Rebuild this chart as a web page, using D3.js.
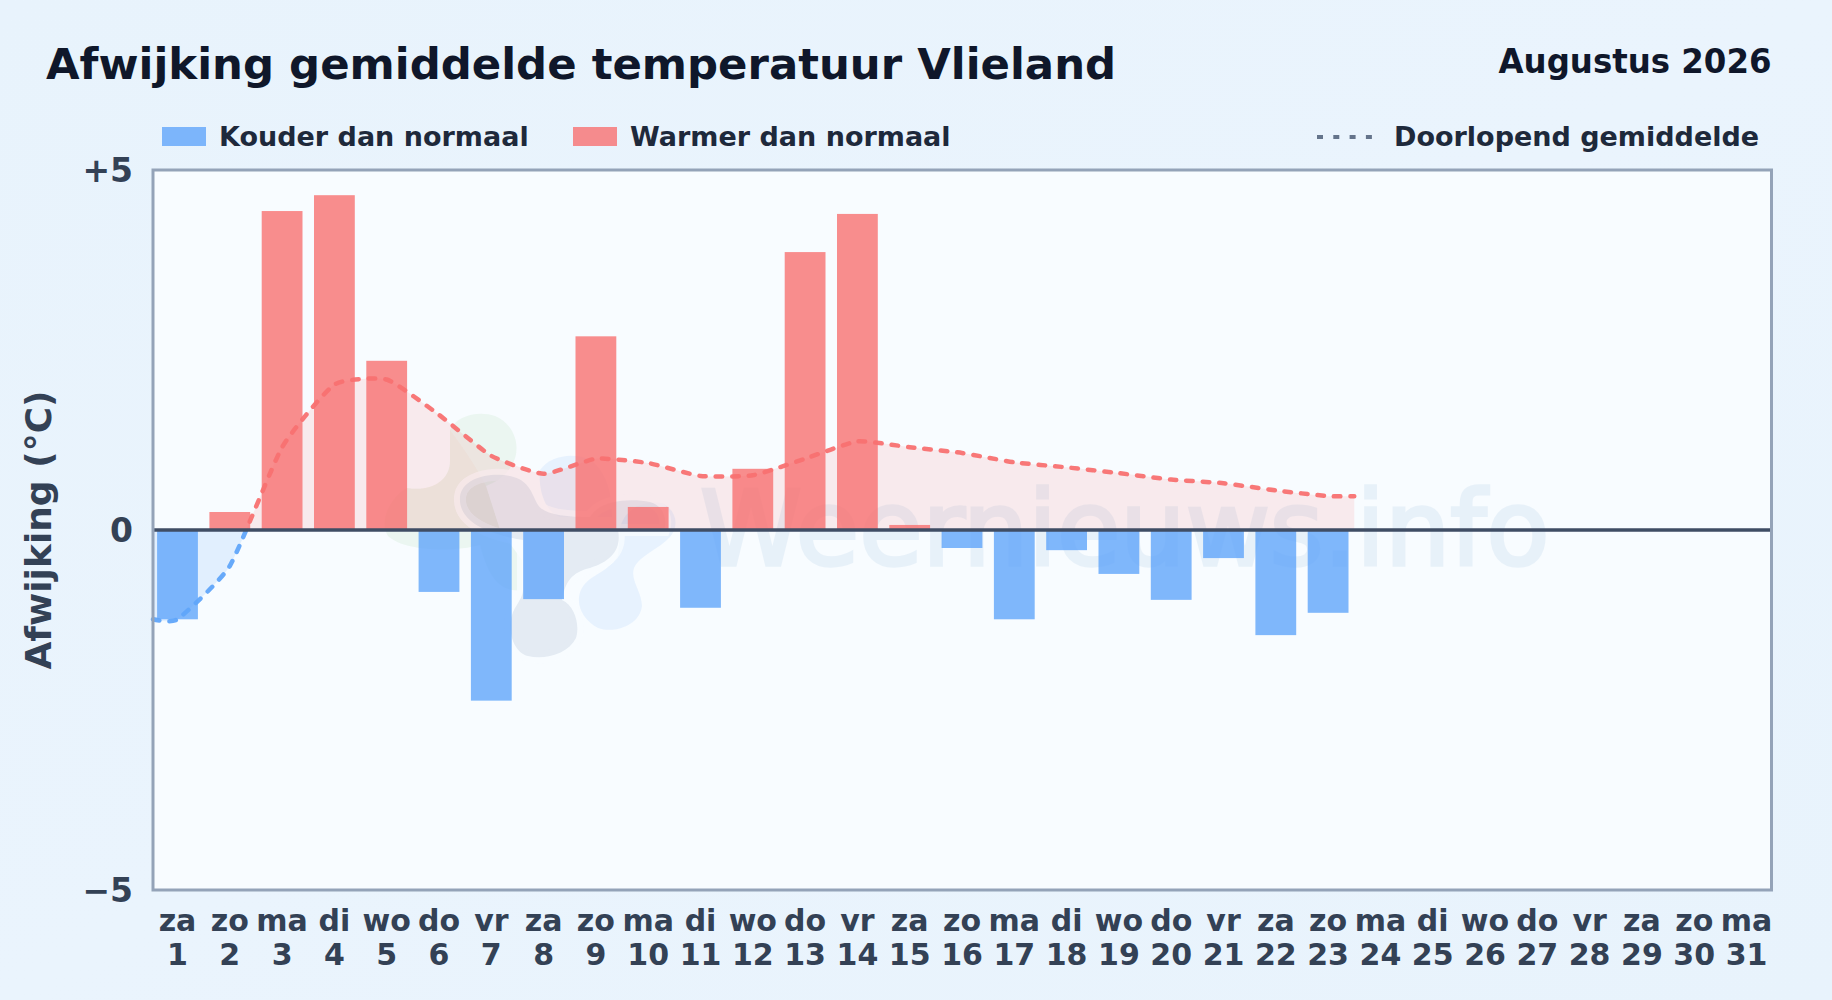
<!DOCTYPE html>
<html>
<head>
<meta charset="utf-8">
<title>Afwijking gemiddelde temperatuur Vlieland</title>
<script src="https://cdnjs.cloudflare.com/ajax/libs/d3/7.8.5/d3.min.js"></script>
<style>
  html, body { margin: 0; padding: 0; background: #e8f3fc; overflow: hidden; }
  svg { display: block; }
  text { font-family: "DejaVu Sans", sans-serif; font-weight: 700; }
</style>
</head>
<body>
<script>
;(function () {

  var weekdays = ["za","zo","ma","di","wo","do","vr","za","zo","ma","di","wo","do","vr","za","zo","ma","di","wo","do","vr","za","zo","ma","di","wo","do","vr","za","zo","ma"];
  var days = d3.range(1, 32);

  // daily deviation, month is not finished yet
  var deviation = [-1.24, 0.25, 4.43, 4.65, 2.35, -0.86, -2.37, -0.96, 2.69, 0.32, -1.08, 0.85, 3.86, 4.39, 0.07, -0.25, -1.24, -0.28, -0.61, -0.97, -0.39, -1.46, -1.15];
  var runningMean = [-1.24, -0.50, 1.15, 2.02, 2.09, 1.60, 1.03, 0.78, 0.99, 0.93, 0.75, 0.76, 0.99, 1.23, 1.15, 1.07, 0.94, 0.87, 0.79, 0.70, 0.65, 0.55, 0.47];
  var yTicks = [-5, 0, 5];

  var width = 1832, height = 1000;
  var plot = { left: 153, right: 1771.5, top: 170, bottom: 890 };
  var red = "#f87171", blue = "#60a5fa";

  var svg = d3.select("body").append("svg")
    .attr("width", width)
    .attr("height", height);

  var defs = svg.append("defs");

  var bgGrad = defs.append("linearGradient").attr("id", "bg")
    .attr("x1", 0).attr("y1", 0).attr("x2", 1).attr("y2", 1);
  bgGrad.append("stop").attr("offset", 0).attr("stop-color", "#e8f3fc");
  bgGrad.append("stop").attr("offset", 0.5).attr("stop-color", "#eaf4fd");
  bgGrad.append("stop").attr("offset", 1).attr("stop-color", "#e8f3fc");

  svg.append("rect").attr("width", width).attr("height", height).attr("fill", "url(#bg)");

  var x = d3.scaleBand()
    .domain(days)
    .range([151.35, 1772.65])
    .paddingInner(0.22)
    .paddingOuter(0.11);

  var y = d3.scaleLinear().domain([-5, 5]).range([plot.bottom, plot.top]);

  var center = function (d) { return x(d) + x.bandwidth() / 2; };

  // plot background
  svg.append("rect")
    .attr("x", plot.left).attr("y", plot.top)
    .attr("width", plot.right - plot.left).attr("height", plot.bottom - plot.top)
    .attr("fill", "#f8fcff");

  // watermark logo, hand traced
  var logoShapes = [
    { fill: "#9ed49a", o: 0.14, d: "M450,430 C456,416 478,410 495,416 C515,424 522,448 512,465 C506,476 496,482 486,486 L500,530 L522,560 L522,590 C505,592 490,585 480,545 C455,552 405,552 388,536 C378,520 392,496 407,488 C430,492 450,482 450,460 Z" },
    { fill: "#f4b183", o: 0.08, d: "M450,460 C452,480 430,492 407,488 L407,530 L500,530 L486,486 C478,470 465,450 450,430 Z" },
    { fill: "#60a5fa", o: 0.11, d: "M540,470 C550,455 575,452 590,460 C605,470 612,490 612,517 L560,517 C545,512 538,490 540,470 Z" },
    { fill: "#60a5fa", o: 0.11, d: "M620,530 C622,512 640,500 662,503 C676,510 680,525 670,537 C658,550 640,555 634,568 C630,580 642,592 642,606 C640,625 615,634 598,628 C582,620 574,602 582,588 C590,574 610,572 618,555 Z" },
    { fill: "#5b7fa6", o: 0.13, halo: true, d: "M460,497 C462,478 490,472 510,476 C530,480 532,495 538,505 C545,515 565,517 590,517 C600,500 630,498 650,502 C662,505 668,518 664,530 L618,530 C622,550 610,562 590,568 C572,572 565,582 562,600 C575,606 580,625 576,638 C568,654 545,660 528,656 C512,652 505,625 515,608 C520,600 523,595 523,590 L523,540 C495,535 458,525 460,497 Z" }
  ];

  var watermark = svg.append("g");
  watermark.selectAll("path")
    .data(logoShapes)
    .enter().append("path")
    .attr("d", function (d) { return d.d; })
    .attr("fill", function (d) { return d.fill; })
    .attr("fill-opacity", function (d) { return d.o; })
    .attr("stroke", function (d) { return d.halo ? "#f8fcff" : "none"; })
    .attr("stroke-opacity", 0.75)
    .attr("stroke-width", 12)
    .attr("paint-order", "stroke");

  watermark.append("text")
    .attr("x", 700).attr("y", 565)
    .attr("font-size", 103)
    .style("font-weight", 400)
    .attr("fill", "#1e6fb8")
    .attr("stroke", "#1e6fb8")
    .attr("stroke-width", 3.5)
    .attr("paint-order", "stroke")
    .attr("opacity", 0.07)
    .text("Weernieuws.info");

  // running mean, runs from the frame to half a gap past the last day
  var lastDay = days[runningMean.length - 1];
  var meanPoints = runningMean.map(function (v, i) { return { x: center(days[i]), v: v }; });
  meanPoints.unshift({ x: plot.left, v: runningMean[0] });
  meanPoints.push({ x: x(lastDay) + x.bandwidth() + x.step() * 0.11, v: runningMean[runningMean.length - 1] });

  var meanCurve = d3.curveCardinal.tension(0.5);

  var meanLine = d3.line()
    .x(function (d) { return d.x; })
    .y(function (d) { return y(d.v); })
    .curve(meanCurve);

  var meanArea = d3.area()
    .x(function (d) { return d.x; })
    .y0(y(0))
    .y1(function (d) { return y(d.v); })
    .curve(meanCurve);

  defs.append("clipPath").attr("id", "above").append("rect")
    .attr("x", plot.left - 5).attr("y", plot.top)
    .attr("width", plot.right - plot.left + 5).attr("height", y(0) - plot.top);
  defs.append("clipPath").attr("id", "below").append("rect")
    .attr("x", plot.left - 5).attr("y", y(0))
    .attr("width", plot.right - plot.left + 5).attr("height", plot.bottom - y(0));

  [["above", red, 0.13], ["below", blue, 0.15]].forEach(function (part) {
    svg.append("path")
      .attr("clip-path", "url(#" + part[0] + ")")
      .attr("d", meanArea(meanPoints))
      .attr("fill", part[1])
      .attr("fill-opacity", part[2]);
  });

  // bars
  svg.append("g").selectAll("rect")
    .data(deviation)
    .enter().append("rect")
    .attr("x", function (d, i) { return x(days[i]); })
    .attr("y", function (d) { return y(Math.max(d, 0)); })
    .attr("width", x.bandwidth())
    .attr("height", function (d) { return Math.abs(y(d) - y(0)); })
    .attr("fill", function (d) { return d < 0 ? blue : red; })
    .attr("fill-opacity", 0.8);

  [["above", red], ["below", blue]].forEach(function (part) {
    svg.append("path")
      .attr("clip-path", "url(#" + part[0] + ")")
      .attr("d", meanLine(meanPoints))
      .attr("fill", "none")
      .attr("stroke", part[1])
      .attr("stroke-opacity", 0.95)
      .attr("stroke-width", 4.5)
      .attr("stroke-linecap", "round")
      .attr("stroke-dasharray", "6.5 10");
  });

  // zero line and frame
  svg.append("line")
    .attr("x1", plot.left).attr("x2", plot.right)
    .attr("y1", y(0)).attr("y2", y(0))
    .attr("stroke", "#3f4d64")
    .attr("stroke-width", 3.5);

  svg.append("rect")
    .attr("x", plot.left).attr("y", plot.top)
    .attr("width", plot.right - plot.left).attr("height", plot.bottom - plot.top)
    .attr("fill", "none")
    .attr("stroke", "#94a3b8")
    .attr("stroke-width", 3);

  // axes
  var yAxis = d3.axisLeft(y)
    .tickValues(yTicks)
    .tickSize(0)
    .tickPadding(20)
    .tickFormat(function (d) { return d > 0 ? "+" + d : d < 0 ? "\u2212" + Math.abs(d) : "0"; });

  var yG = svg.append("g").attr("transform", "translate(" + plot.left + ",1)").call(yAxis);
  yG.select(".domain").remove();
  yG.selectAll("text")
    .attr("font-size", 33)
    .attr("font-family", "DejaVu Sans")
    .attr("font-weight", 700)
    .attr("fill", "#334155");

  var xAxis = d3.axisBottom(x).tickSize(0).tickFormat("");
  var xG = svg.append("g").attr("transform", "translate(0," + plot.bottom + ")").call(xAxis);
  xG.select(".domain").remove();
  xG.selectAll(".tick text").each(function (d, i) {
    var t = d3.select(this).attr("y", null).attr("dy", null)
      .attr("font-size", 30)
      .attr("font-family", "DejaVu Sans")
      .attr("font-weight", 700)
      .attr("fill", "#334155");
    t.append("tspan").attr("x", 0).attr("y", 41).text(weekdays[i]);
    t.append("tspan").attr("x", 0).attr("y", 75).text(d);
  });

  svg.append("text")
    .attr("transform", "translate(51,530) rotate(-90)")
    .attr("text-anchor", "middle")
    .attr("font-size", 36)
    .attr("fill", "#334155")
    .text("Afwijking (\u00b0C)");

  // titles
  svg.append("text")
    .attr("x", 46).attr("y", 79)
    .attr("font-size", 43.4)
    .attr("fill", "#0f172a")
    .text("Afwijking gemiddelde temperatuur Vlieland");

  svg.append("text")
    .attr("x", 1771.5).attr("y", 72.5)
    .attr("text-anchor", "end")
    .attr("font-size", 33.4)
    .attr("textLength", 273)
    .attr("lengthAdjust", "spacingAndGlyphs")
    .attr("fill", "#0f172a")
    .text("Augustus 2026");

  // legend
  var legend = svg.append("g").attr("font-size", 27).attr("fill", "#1e293b");

  legend.append("rect").attr("x", 162).attr("y", 127).attr("width", 44).attr("height", 19)
    .attr("fill", blue).attr("fill-opacity", 0.8);
  legend.append("text").attr("x", 219).attr("y", 146).text("Kouder dan normaal");

  legend.append("rect").attr("x", 573).attr("y", 127).attr("width", 44).attr("height", 19)
    .attr("fill", red).attr("fill-opacity", 0.8);
  legend.append("text").attr("x", 630).attr("y", 146).text("Warmer dan normaal");

  legend.append("line")
    .attr("x1", 1317).attr("x2", 1372).attr("y1", 137).attr("y2", 137)
    .attr("stroke", "#64748b").attr("stroke-width", 4)
    .attr("stroke-dasharray", "6 10.3");
  legend.append("text").attr("x", 1394).attr("y", 146).text("Doorlopend gemiddelde");

})();
</script>
</body>
</html>
